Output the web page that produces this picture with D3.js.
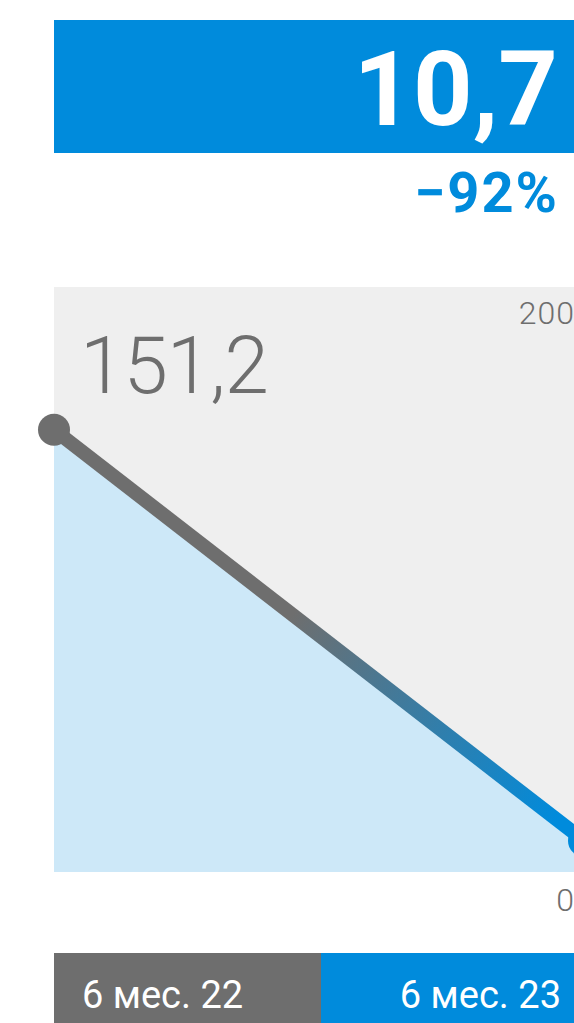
<!DOCTYPE html>
<meta charset="utf-8">
<style>
body { margin: 0; background: #fff; }
svg { display: block; font-family: Roboto, "Noto Sans", sans-serif; }
.tick-label { fill: #6e6e6e; font-size: 32px; font-weight: 300; letter-spacing: 1px; }
</style>
<svg width="574" height="1023"></svg>
<script src="https://cdn.jsdelivr.net/npm/d3@7"></script>
<script>

var periods = ["6 мес. 22", "6 мес. 23"],
    values = [151.2, 10.7],
    yTicks = [0, 200],
    headline = "10,7",
    change = "\u221292%";

var grey = "#6e6e6e", blue = "#008bdc";

var svg = d3.select("svg");

var x = d3.scalePoint()
    .domain(periods)
    .range([54, 584]);

var band = d3.scaleBand()
    .domain(periods)
    .range([54, 588]);

var y = d3.scaleLinear()
    .domain([0, 200])
    .range([872, 287]);

// headline block
svg.append("rect")
    .attr("x", 54).attr("y", 20)
    .attr("width", 540).attr("height", 133)
    .attr("fill", blue);

svg.append("text")
    .attr("x", 558).attr("y", 125)
    .attr("text-anchor", "end")
    .attr("fill", "#fff")
    .attr("font-size", 104)
    .attr("font-weight", 700)
    .text(headline);

svg.append("text")
    .attr("x", 559).attr("y", 212)
    .attr("text-anchor", "end")
    .attr("fill", blue)
    .attr("font-size", 56)
    .attr("font-weight", 700)
    .attr("letter-spacing", 2)
    .text(change);

// plot background
svg.append("rect")
    .attr("x", 54).attr("y", y(200))
    .attr("width", 540).attr("height", y(0) - y(200))
    .attr("fill", "#efefef");

var data = periods.map(function(p, i) { return {period: p, value: values[i]}; });

var defs = svg.append("defs");
var grad = defs.append("linearGradient")
    .attr("id", "lineGrad")
    .attr("gradientUnits", "userSpaceOnUse")
    .attr("x1", x(periods[0])).attr("y1", y(values[0]))
    .attr("x2", x(periods[1])).attr("y2", y(values[1]));
grad.append("stop").attr("offset", "0.45").attr("stop-color", grey);
grad.append("stop").attr("offset", "0.95").attr("stop-color", blue);

var area = d3.area()
    .x(function(d) { return x(d.period); })
    .y0(y(0))
    .y1(function(d) { return y(d.value); });

svg.append("path")
    .datum(data)
    .attr("fill", "#cde8f8")
    .attr("d", area);

var line = d3.line()
    .x(function(d) { return x(d.period); })
    .y(function(d) { return y(d.value); });

svg.append("path")
    .datum(data)
    .attr("fill", "none")
    .attr("stroke", "url(#lineGrad)")
    .attr("stroke-width", 14)
    .attr("d", line);

svg.selectAll(".dot")
    .data(data)
  .enter().append("circle")
    .attr("class", "dot")
    .attr("cx", function(d) { return x(d.period); })
    .attr("cy", function(d) { return y(d.value); })
    .attr("r", 16)
    .attr("fill", function(d, i) { return i === 0 ? grey : blue; });

// first value label
svg.append("text")
    .attr("x", 80).attr("y", 393)
    .attr("fill", grey)
    .attr("font-size", 80)
    .attr("font-weight", 300)
    .attr("letter-spacing", -1)
    .text(d3.format(".1f")(values[0]).replace(".", ","));

// y ticks
svg.selectAll(".tick-label")
    .data(yTicks)
  .enter().append("text")
    .attr("class", "tick-label")
    .attr("x", 575)
    .attr("y", function(d) { return d === 0 ? y(d) + 39 : y(d) + 37; })
    .attr("text-anchor", "end")
    .text(function(d) { return d; });

// period bars
svg.selectAll(".period")
    .data(periods)
  .enter().append("rect")
    .attr("class", "period")
    .attr("x", function(d) { return band(d); })
    .attr("y", 953)
    .attr("width", band.bandwidth())
    .attr("height", 70)
    .attr("fill", function(d, i) { return i === 0 ? grey : blue; });

svg.selectAll(".period-label")
    .data(periods)
  .enter().append("text")
    .attr("class", "period-label")
    .attr("x", function(d, i) { return i === 0 ? band(d) + 28 : 561; })
    .attr("y", 1008)
    .attr("text-anchor", function(d, i) { return i === 0 ? "start" : "end"; })
    .attr("fill", "#fff")
    .attr("font-size", 38)
    .text(function(d) { return d; });

</script>
